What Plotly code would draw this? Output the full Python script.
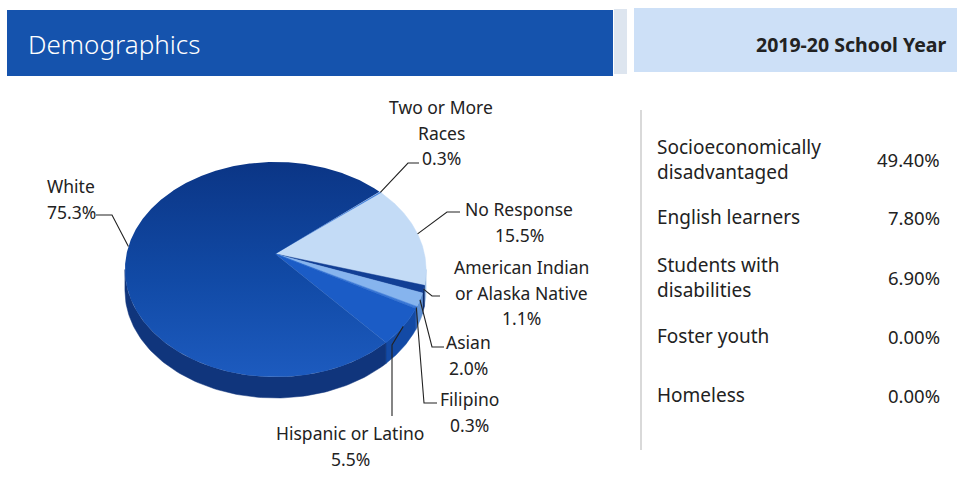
import numpy as np
import plotly.graph_objects as go

# ---------------- data ----------------
title_text = "Demographics"
year_text = "2019-20 School Year"

categories = ["Two or More Races", "No Response", "American Indian or Alaska Native",
              "Asian", "Filipino", "Hispanic or Latino", "White"]
percentages = [0.3, 15.5, 1.1, 2.0, 0.3, 5.5, 75.3]
label_lines = [["Two or More", "Races"], ["No Response"], ["American Indian", "or Alaska Native"],
               ["Asian"], ["Filipino"], ["Hispanic or Latino"], ["White"]]

group_labels = [["Socioeconomically", "disadvantaged"], ["English learners"],
                ["Students with", "disabilities"], ["Foster youth"], ["Homeless"]]
group_values = [49.40, 7.80, 6.90, 0.00, 0.00]

# ---------------- styles / layout ----------------
W, H = 957, 479
FONT = "Noto Sans"
TXT = "#222222"

top_colors = ["#3f7fdc", "#c3dbf6", "#123f95", "#86b4ee", "#3b78d6", "#1b5cc6", None]
side_colors = ["#2a63b8", "#97b9e2", "#0b2c70", "#5f90d2", "#2a5fb5", "#134aa5", "#10357c"]

# perspective-projected pie geometry (pixel space)
cx0, cy0 = 275.5, 254.0      # projected centre (apex of slices)
A, B, K = 149.0, 105.3, 0.144
depth = 21.0
start_angle = 40.3

# label placement: (x, first line y, anchor)
label_pos = [(441, 107, "center"), (519, 209, "center"), (521, 267, "center"),
             (468, 342, "center"), (469, 399, "center"), (350, 433, "center"), (45, 186, "left")]
line_gap = 25.5
# leader elbows: list of points after the rim anchor
leader_pts = [[(408, 163), (419, 163)], [(447, 212), (460, 212)], [(432, 296), (440, 296)],
              [(432, 347), (444, 347)], [(424, 403), (437, 403)], [(392, 345), (392, 416)],
              [(112, 215), (96, 215)]]


def rim(theta_deg, dy=0.0):
    t = np.radians(theta_deg)
    u, v = np.cos(t), np.sin(t)
    s = 1.0 / (1.0 + K * v)
    return cx0 + A * u * s, cy0 - B * v * s + dy


fig = go.Figure()

# slice angle bounds
bounds = []
cur = start_angle
for p in percentages:
    span = p * 3.6
    bounds.append((cur, cur - span))
    cur -= span

# silhouette extremes of the projected rim
ext = np.degrees(np.arcsin(-K))   # about -8.3 deg
front_hi, front_lo = ext, -180.0 - ext

# sides (front part only)
for (hi, lo), col in zip(bounds, side_colors):
    h2, l2 = min(hi, front_hi), max(lo, front_lo)
    if h2 <= l2:
        continue
    th = np.linspace(h2, l2, 100)
    xt, yt = rim(th)
    xb, yb = rim(th[::-1], depth)
    xs = list(xt) + list(xb) + [xt[0]]
    ys = list(yt) + list(yb) + [yt[0]]
    fig.add_trace(go.Scatter(x=xs, y=ys, mode="lines", fill="toself", fillcolor=col,
                             line=dict(width=0.5, color=col), hoverinfo="skip"))

# top faces
for (hi, lo), col in zip(bounds, top_colors):
    th = np.linspace(hi, lo, max(4, int((hi - lo) * 2)))
    rx, ry = rim(th)
    xs = [cx0] + list(rx) + [cx0]
    ys = [cy0] + list(ry) + [cy0]
    if col is None:
        fig.add_trace(go.Scatter(x=xs, y=ys, mode="lines", fill="toself",
                                 fillgradient=dict(type="vertical", start=160, stop=378,
                                                   colorscale=[[0, "#0b3585"], [0.55, "#114aa6"], [1, "#1d5bbf"]]),
                                 line=dict(width=0), hoverinfo="skip"))
    else:
        fig.add_trace(go.Scatter(x=xs, y=ys, mode="lines", fill="toself", fillcolor=col,
                                 line=dict(width=0.5, color=col), hoverinfo="skip"))

annotations = []
# labels + leader lines
for i, ((hi, lo), lines, pct) in enumerate(zip(bounds, label_lines, percentages)):
    mid = (hi + lo) / 2
    ax_, ay_ = rim(mid)
    pts = [(ax_, ay_)] + leader_pts[i]
    fig.add_trace(go.Scatter(x=[p[0] for p in pts], y=[p[1] for p in pts], mode="lines",
                             line=dict(color=TXT, width=1.1), hoverinfo="skip"))
    x0, y0, anc = label_pos[i]
    all_lines = lines + [f"{pct:.1f}%"]
    for k, t in enumerate(all_lines):
        annotations.append(dict(x=x0, y=y0 + k * line_gap, text=t, showarrow=False,
                                xanchor=anc, yanchor="middle", xref="x", yref="y",
                                font=dict(family=FONT, size=17.5, color=TXT)))

# right table
row_y = [147, 217, 265, 336, 395]
for lines, val, y0 in zip(group_labels, group_values, row_y):
    for k, t in enumerate(lines):
        annotations.append(dict(x=655, y=y0 + k * 25, text=t, showarrow=False, xanchor="left",
                                yanchor="middle", xref="x", yref="y",
                                font=dict(family=FONT, size=19, color=TXT)))
    vy = y0 + (len(lines) - 1) * 25 / 2
    annotations.append(dict(x=942, y=vy, text=f"{val:.2f}%", showarrow=False, xanchor="right",
                            yanchor="middle", xref="x", yref="y",
                            font=dict(family=FONT, size=18.5, color=TXT)))

# header texts
annotations.append(dict(x=26, y=44, text=title_text, showarrow=False, xanchor="left", yanchor="middle",
                        xref="x", yref="y", font=dict(family=FONT, size=26, color="white", weight=300)))
annotations.append(dict(x=949, y=44, text=f"<b>{year_text}</b>", showarrow=False, xanchor="right",
                        yanchor="middle", xref="x", yref="y",
                        font=dict(family=FONT, size=19.5, color=TXT)))

shapes = [
    dict(type="rect", x0=7, x1=613, y0=10, y1=76, xref="x", yref="y", fillcolor="#1553ad", line_width=0, layer="below"),
    dict(type="rect", x0=614, x1=627, y0=9, y1=74, xref="x", yref="y", fillcolor="#dde5ef", line_width=0, layer="below"),
    dict(type="rect", x0=634, x1=957, y0=8, y1=72, xref="x", yref="y", fillcolor="#cde0f7", line_width=0, layer="below"),
    dict(type="line", x0=641, x1=641, y0=110, y1=450, xref="x", yref="y", line=dict(color="#cccccc", width=1.5)),
]

fig.update_layout(width=W, height=H, margin=dict(l=0, r=0, t=0, b=0), showlegend=False,
                  paper_bgcolor="white", plot_bgcolor="white",
                  annotations=annotations, shapes=shapes)
fig.update_xaxes(range=[0, W], visible=False, fixedrange=True)
fig.update_yaxes(range=[H, 0], visible=False, fixedrange=True)

fig.write_html("out.html")
